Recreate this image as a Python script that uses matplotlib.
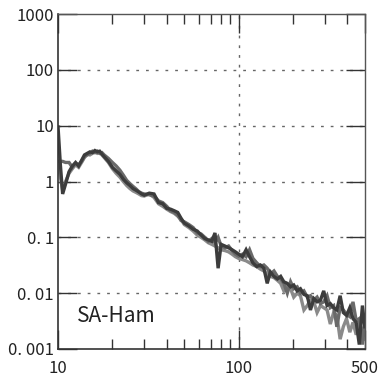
import matplotlib
matplotlib.use("Agg")
import matplotlib.pyplot as plt
from matplotlib.ticker import FixedLocator, NullFormatter, NullLocator

freq = [10, 10.3, 10.6, 11, 11.5, 12, 12.5, 13, 13.5, 14, 14.5, 15, 15.5, 16, 16.5, 17, 17.5, 18, 19, 20,
        21, 22, 23, 24, 25, 26, 27, 28, 29, 30, 32, 34, 36, 38, 40, 42, 44, 46, 48, 50,
        53, 56, 59, 62, 65, 68, 71, 74, 77, 80, 84, 88, 92, 96, 100, 105, 110, 115, 120, 126,
        132, 138, 144, 150, 157, 164, 171, 178, 186, 194, 202, 211, 220, 230, 240, 250, 261, 272, 284, 296,
        309, 322, 336, 350, 365, 380, 396, 413, 430, 448, 466, 485, 500]

series_a = [9.5, 2.0, 0.6, 0.9, 1.5, 1.9, 2.2, 1.9, 2.4, 3.0, 3.2, 3.4, 3.3, 3.6, 3.4, 3.5, 3.1, 2.8, 2.3, 1.8,
            1.55, 1.35, 1.1, 0.95, 0.85, 0.75, 0.7, 0.65, 0.6, 0.57, 0.62, 0.6, 0.42, 0.4, 0.33, 0.32, 0.3, 0.28, 0.22, 0.18,
            0.16, 0.14, 0.13, 0.11, 0.095, 0.09, 0.085, 0.12, 0.028, 0.075, 0.07, 0.065, 0.06, 0.055, 0.05, 0.045, 0.06, 0.045, 0.035, 0.03,
            0.032, 0.028, 0.015, 0.024, 0.02, 0.018, 0.02, 0.016, 0.015, 0.013, 0.014, 0.011, 0.012, 0.0095, 0.009, 0.005, 0.008, 0.007, 0.0075, 0.011,
            0.006, 0.0065, 0.0055, 0.005, 0.009, 0.0045, 0.004, 0.0055, 0.0035, 0.003, 0.0012, 0.006, 0.0025]

series_b = [2.3, 2.3, 2.3, 2.2, 2.2, 1.8, 2.1, 2.0, 2.3, 2.8, 3.0, 3.2, 3.5, 3.3, 3.5, 3.2, 3.3, 3.0, 2.6, 2.2,
            1.9, 1.6, 1.3, 1.05, 0.92, 0.82, 0.74, 0.66, 0.62, 0.6, 0.58, 0.55, 0.45, 0.42, 0.36, 0.3, 0.28, 0.25, 0.2, 0.19,
            0.17, 0.15, 0.12, 0.115, 0.1, 0.085, 0.095, 0.08, 0.1, 0.07, 0.065, 0.07, 0.058, 0.05, 0.046, 0.05, 0.045, 0.06, 0.042, 0.035,
            0.03, 0.032, 0.028, 0.022, 0.025, 0.02, 0.018, 0.015, 0.01, 0.016, 0.012, 0.013, 0.01, 0.011, 0.0085, 0.009, 0.0075, 0.0085, 0.0065, 0.007,
            0.009, 0.0055, 0.006, 0.0025, 0.0055, 0.005, 0.0042, 0.0038, 0.007, 0.0032, 0.0035, 0.0012, 0.003]

series_c = [2.0, 1.2, 0.7, 1.0, 1.4, 1.7, 2.0, 1.8, 2.2, 2.7, 3.1, 3.0, 3.2, 3.4, 3.2, 3.3, 3.0, 2.7, 2.2, 1.7,
            1.4, 1.2, 1.0, 0.85, 0.75, 0.68, 0.64, 0.6, 0.56, 0.55, 0.6, 0.52, 0.4, 0.36, 0.32, 0.29, 0.27, 0.24, 0.21, 0.17,
            0.15, 0.13, 0.11, 0.1, 0.09, 0.08, 0.075, 0.07, 0.065, 0.06, 0.058, 0.055, 0.05, 0.045, 0.042, 0.04, 0.038, 0.035, 0.032, 0.03,
            0.027, 0.025, 0.022, 0.02, 0.019, 0.017, 0.015, 0.011, 0.014, 0.012, 0.0085, 0.01, 0.009, 0.005, 0.006, 0.0075, 0.007, 0.0045, 0.006, 0.0055,
            0.005, 0.0028, 0.0045, 0.004, 0.0015, 0.0025, 0.0035, 0.002, 0.003, 0.0018, 0.0028, 0.0022, 0.0015]

series_colors = ["#8a8a8a", "#6a6a6a", "#3c3c3c"]
series_list = [series_c, series_b, series_a]

y_ticks = [0.001, 0.01, 0.1, 1, 10, 100, 1000]
y_tick_labels = ["0. 001", "0. 01", "0. 1", "1", "10", "100", "1000"]
x_ticks = [10, 100, 500]
x_tick_labels = ["10", "100", "500"]
x_minor = [20, 30, 40, 50, 60, 70, 80, 90, 200, 300, 400]

label_font = ["Noto Sans CJK JP", "DejaVu Sans"]

fig = plt.figure(figsize=(3.82, 3.82), dpi=100)
ax = fig.add_axes([0.152, 0.0864, 0.803, 0.8766])
ax.set_xscale("log")
ax.set_yscale("log")
ax.set_xlim(10, 500)
ax.set_ylim(0.001, 1000)

for s, c in zip(series_list, series_colors):
    ax.plot(freq, s, color=c, lw=2.4, solid_joinstyle="miter")

# grid
for yv in [0.01, 0.1, 1, 10, 100]:
    ax.axhline(yv, color="#666666", lw=1.0, ls=(0, (2, 5)), zorder=0)
ax.axvline(100, color="#666666", lw=1.0, ls=(0, (2, 5)), zorder=0)

ax.xaxis.set_major_locator(FixedLocator(x_ticks))
ax.xaxis.set_minor_locator(FixedLocator(x_minor))
ax.xaxis.set_minor_formatter(NullFormatter())
ax.set_xticklabels(x_tick_labels, family=label_font, fontsize=12, color="#222222")
ax.yaxis.set_major_locator(FixedLocator(y_ticks))
ax.yaxis.set_minor_locator(NullLocator())
ax.set_yticklabels(y_tick_labels, family=label_font, fontsize=12, color="#222222")

ax.tick_params(axis="both", which="major", direction="in", length=14, width=1.0, color="#333333",
               top=True, right=True, pad=3)
ax.tick_params(axis="x", which="major", pad=8)
ax.tick_params(axis="x", which="minor", direction="in", length=7, width=1.0, color="#333333", top=True)

for side in ["left", "bottom"]:
    ax.spines[side].set_color("#333333")
    ax.spines[side].set_linewidth(1.2)
for side in ["top", "right"]:
    ax.spines[side].set_color("#555555")
    ax.spines[side].set_linewidth(1.0)

ax.text(0.06, 0.065, "SA-Ham", transform=ax.transAxes, family=label_font, fontsize=15,
        color="#222222", ha="left", va="bottom")

fig.savefig("out.png", dpi=100)
